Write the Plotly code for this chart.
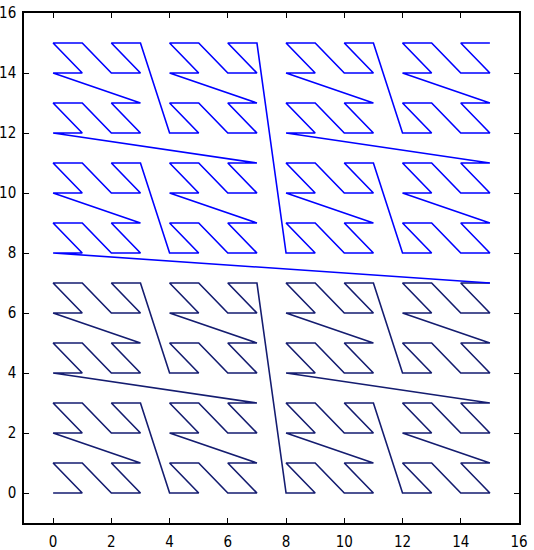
import plotly.graph_objects as go

# Curve vertices (x, y), in drawing order
xs = [
    0, 1, 0, 1, 2, 3, 2, 3, 0, 1, 0, 1, 2, 3, 2, 3,
    4, 5, 4, 5, 6, 7, 6, 7, 4, 5, 4, 5, 6, 7, 6, 7,
    0, 1, 0, 1, 2, 3, 2, 3, 0, 1, 0, 1, 2, 3, 2, 3,
    4, 5, 4, 5, 6, 7, 6, 7, 4, 5, 4, 5, 6, 7, 6, 7,
    8, 9, 8, 9, 10, 11, 10, 11, 8, 9, 8, 9, 10, 11, 10, 11,
    12, 13, 12, 13, 14, 15, 14, 15, 12, 13, 12, 13, 14, 15, 14, 15,
    8, 9, 8, 9, 10, 11, 10, 11, 8, 9, 8, 9, 10, 11, 10, 11,
    12, 13, 12, 13, 14, 15, 14, 15, 12, 13, 12, 13, 14, 15, 14, 15,
    0, 1, 0, 1, 2, 3, 2, 3, 0, 1, 0, 1, 2, 3, 2, 3,
    4, 5, 4, 5, 6, 7, 6, 7, 4, 5, 4, 5, 6, 7, 6, 7,
    0, 1, 0, 1, 2, 3, 2, 3, 0, 1, 0, 1, 2, 3, 2, 3,
    4, 5, 4, 5, 6, 7, 6, 7, 4, 5, 4, 5, 6, 7, 6, 7,
    8, 9, 8, 9, 10, 11, 10, 11, 8, 9, 8, 9, 10, 11, 10, 11,
    12, 13, 12, 13, 14, 15, 14, 15, 12, 13, 12, 13, 14, 15, 14, 15,
    8, 9, 8, 9, 10, 11, 10, 11, 8, 9, 8, 9, 10, 11, 10, 11,
    12, 13, 12, 13, 14, 15, 14, 15, 12, 13, 12, 13, 14, 15, 14, 15,
]
ys = [
    0, 0, 1, 1, 0, 0, 1, 1, 2, 2, 3, 3, 2, 2, 3, 3,
    0, 0, 1, 1, 0, 0, 1, 1, 2, 2, 3, 3, 2, 2, 3, 3,
    4, 4, 5, 5, 4, 4, 5, 5, 6, 6, 7, 7, 6, 6, 7, 7,
    4, 4, 5, 5, 4, 4, 5, 5, 6, 6, 7, 7, 6, 6, 7, 7,
    0, 0, 1, 1, 0, 0, 1, 1, 2, 2, 3, 3, 2, 2, 3, 3,
    0, 0, 1, 1, 0, 0, 1, 1, 2, 2, 3, 3, 2, 2, 3, 3,
    4, 4, 5, 5, 4, 4, 5, 5, 6, 6, 7, 7, 6, 6, 7, 7,
    4, 4, 5, 5, 4, 4, 5, 5, 6, 6, 7, 7, 6, 6, 7, 7,
    8, 8, 9, 9, 8, 8, 9, 9, 10, 10, 11, 11, 10, 10, 11, 11,
    8, 8, 9, 9, 8, 8, 9, 9, 10, 10, 11, 11, 10, 10, 11, 11,
    12, 12, 13, 13, 12, 12, 13, 13, 14, 14, 15, 15, 14, 14, 15, 15,
    12, 12, 13, 13, 12, 12, 13, 13, 14, 14, 15, 15, 14, 14, 15, 15,
    8, 8, 9, 9, 8, 8, 9, 9, 10, 10, 11, 11, 10, 10, 11, 11,
    8, 8, 9, 9, 8, 8, 9, 9, 10, 10, 11, 11, 10, 10, 11, 11,
    12, 12, 13, 13, 12, 12, 13, 13, 14, 14, 15, 15, 14, 14, 15, 15,
    12, 12, 13, 13, 12, 12, 13, 13, 14, 14, 15, 15, 14, 14, 15, 15,
]
tick_vals = [0, 2, 4, 6, 8, 10, 12, 14, 16]

half = len(xs) // 2

fig = go.Figure()
# lower half of the curve (dark navy)
fig.add_trace(go.Scatter(x=xs[:half], y=ys[:half], mode="lines",
                         line=dict(color="#141c70", width=1.6),
                         hoverinfo="skip"))
# upper half, including the jump from the lower half (blue)
fig.add_trace(go.Scatter(x=xs[half - 1:], y=ys[half - 1:], mode="lines",
                         line=dict(color="#0000ff", width=1.6),
                         hoverinfo="skip"))

axis_style = dict(
    range=[-1, 16], tickvals=tick_vals, ticks="inside", ticklen=5,
    tickcolor="black", tickwidth=1, showgrid=False, zeroline=False,
    showline=True, linecolor="black", linewidth=1.5, mirror="ticks",
    automargin=False,
    tickfont=dict(family="DejaVu Sans Condensed, DejaVu Sans", size=15,
                  color="black"),
)

fig.update_layout(
    width=534, height=550,
    margin=dict(l=24, r=15, t=13, b=27),
    plot_bgcolor="white", paper_bgcolor="white",
    showlegend=False,
    xaxis=dict(**axis_style, ticklabelstandoff=4),
    yaxis=dict(**axis_style, ticklabelstandoff=3),
)

# the default page keeps an 8px body margin; drop it so the figure sits at 0,0
fig.write_html("out.html", config={"displayModeBar": False},
               post_script="document.body.style.margin='0';")
